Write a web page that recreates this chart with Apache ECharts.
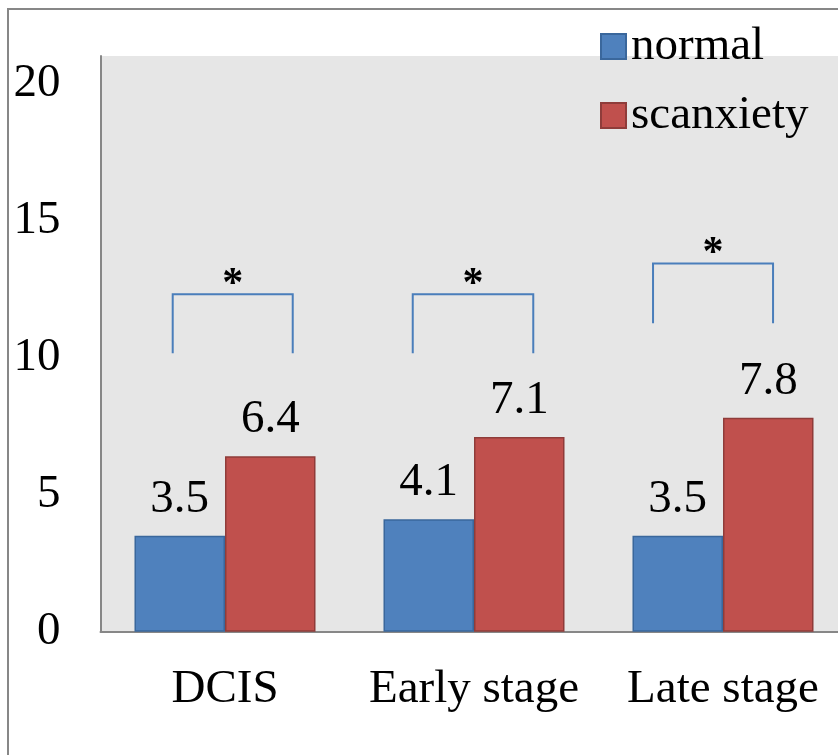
<!DOCTYPE html>
<html>
<head>
<meta charset="utf-8">
<title>Scanxiety by stage</title>
<script src="https://cdn.jsdelivr.net/npm/echarts@6/dist/echarts.min.js"></script>
<style>
  html, body { margin: 0; padding: 0; background: #ffffff; }
  #chart { width: 838px; height: 755px; }
</style>
</head>
<body>
<div id="chart"></div>
<script>
// Mean scores per disease stage
const categories = ['DCIS', 'Early stage', 'Late stage'];
const normalValues = [3.5, 4.1, 3.5];
const scanxietyValues = [6.4, 7.1, 7.8];
const seriesNames = ['normal', 'scanxiety'];

// Value-axis tick labels
const yTicks = [0, 5, 10, 15, 20];
const yMax = 21;

// Significance brackets: ends in category units, legs in value units
const bracketLeft = [-0.21, 0.754, 1.719];
const bracketRight = [0.272, 1.238, 2.201];
const bracketBase = [10.16, 10.16, 11.25];
const bracketTop = [12.31, 12.31, 13.43];
const bracketMark = ['*', '*', '*'];

const FONT = "'Liberation Serif', 'Times New Roman', serif";
const AXIS_GREY = '#878787';

const chart = echarts.init(document.getElementById('chart'), null, { renderer: 'canvas' });

const barLabel = {
  show: true,
  position: 'top',
  distance: 13,
  color: '#000000',
  fontFamily: FONT,
  fontSize: 47
};

const option = {
  animation: false,
  backgroundColor: '#ffffff',
  textStyle: { fontFamily: FONT },
  graphic: [{
    type: 'rect',
    silent: true,
    shape: { x: 8, y: 9, width: 1000, height: 1000 },
    style: { fill: 'none', stroke: AXIS_GREY, lineWidth: 2 }
  }],
  legend: {
    orient: 'vertical',
    left: 595,
    top: 18,
    itemWidth: 25,
    itemHeight: 25,
    itemGap: 22,
    icon: 'rect',
    data: seriesNames,
    textStyle: { fontFamily: FONT, fontSize: 47, color: '#000000', padding: [0, 0, 0, 0] }
  },
  grid: {
    left: 100.5,
    width: 747,
    top: 56,
    height: 575.7,
    show: true,
    backgroundColor: '#e6e6e6',
    borderWidth: 0,
    containLabel: false,
    outerBoundsMode: 'none'
  },
  xAxis: {
    type: 'category',
    data: categories,
    axisLine: { show: true, lineStyle: { color: AXIS_GREY, width: 2 } },
    axisTick: { show: false },
    axisLabel: {
      color: '#000000',
      fontFamily: FONT,
      fontSize: 47,
      margin: 34,
      interval: 0,
      hideOverlap: false
    },
    splitLine: { show: false }
  },
  yAxis: {
    type: 'value',
    min: 0,
    max: yMax,
    interval: 5,
    axisLine: { show: true, lineStyle: { color: AXIS_GREY, width: 2 } },
    axisTick: { show: false },
    splitLine: { show: false },
    axisLabel: {
      color: '#000000',
      fontFamily: FONT,
      fontSize: 47,
      margin: 40,
      showMaxLabel: false,
      formatter: function (v) { return yTicks.indexOf(v) >= 0 ? String(v) : ''; }
    }
  },
  series: [
    {
      name: seriesNames[0],
      type: 'bar',
      data: normalValues,
      barGap: '0%',
      barCategoryGap: '27.3%',
      itemStyle: { color: '#4f81bd', borderColor: '#3a679c', borderWidth: 1.5 },
      label: barLabel
    },
    {
      name: seriesNames[1],
      type: 'bar',
      data: scanxietyValues,
      barGap: '0%',
      barCategoryGap: '27.3%',
      itemStyle: { color: '#c0504d', borderColor: '#8f3c3a', borderWidth: 1.5 },
      label: barLabel
    },
    {
      name: 'significance',
      type: 'custom',
      silent: true,
      z: 5,
      data: bracketBase.map(function (b, i) { return [i, b, bracketTop[i]]; }),
      renderItem: function (params, api) {
        const i = params.dataIndex;
        const origin = api.coord([0, 0])[0];
        const band = api.size([1, 0])[0];
        const xL = origin + bracketLeft[i] * band;
        const xR = origin + bracketRight[i] * band;
        const yB = api.coord([0, api.value(1)])[1];
        const yT = api.coord([0, api.value(2)])[1];
        return {
          type: 'group',
          children: [
            {
              type: 'polyline',
              shape: { points: [[xL, yB], [xL, yT], [xR, yT], [xR, yB]] },
              style: { fill: 'none', stroke: '#4a7ebb', lineWidth: 2 }
            },
            {
              type: 'text',
              style: {
                text: bracketMark[i],
                x: (xL + xR) / 2,
                y: yT + 12,
                align: 'center',
                verticalAlign: 'bottom',
                fill: '#000000',
                font: 'bold 42px ' + FONT
              }
            }
          ]
        };
      }
    }
  ]
};

chart.setOption(option);
</script>
</body>
</html>
